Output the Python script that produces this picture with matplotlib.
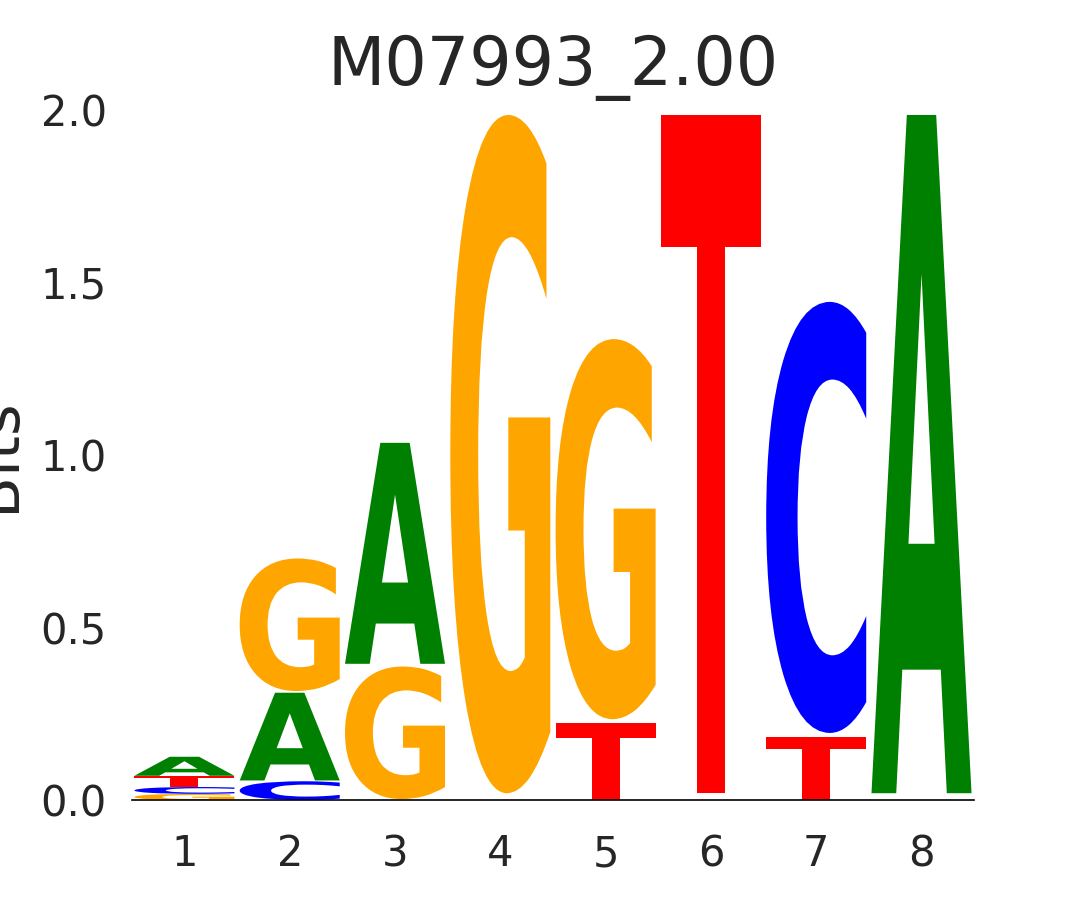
import numpy as np
import matplotlib
matplotlib.use('Agg')
import matplotlib.pyplot as plt
from matplotlib.textpath import TextPath
from matplotlib.patches import PathPatch
from matplotlib.font_manager import FontProperties
from matplotlib.transforms import Affine2D

# information content (bits) of each base at each position
positions = [1, 2, 3, 4, 5, 6, 7, 8]
bits_A = [0.056, 0.258, 0.650, 0.002, 0.000, 0.002, 0.000, 1.995]
bits_C = [0.020, 0.055, 0.000, 0.002, 0.000, 0.002, 1.268, 0.002]
bits_G = [0.018, 0.390, 0.390, 1.995, 1.118, 0.001, 0.000, 0.001]
bits_T = [0.032, 0.000, 0.000, 0.001, 0.226, 1.995, 0.185, 0.002]
title = 'M07993_2.00'

colors = {'A': 'green', 'C': 'blue', 'G': 'orange', 'T': 'red'}
font = FontProperties(family='DejaVu Sans', weight='bold')


def draw_letter(ax, letter, x, bottom, height, width=0.95, vpad=0.015):
    # scale the glyph so it fills the box exactly
    path = TextPath((0, 0), letter, size=1, prop=font)
    ext = path.get_extents()
    h = height * (1 - vpad)
    y0 = bottom + height * vpad / 2
    t = Affine2D().translate(-ext.x0, -ext.y0) \
        .scale(width / ext.width, h / ext.height) \
        .translate(x - width / 2, y0)
    ax.add_patch(PathPatch(t.transform_path(path), facecolor=colors[letter],
                           edgecolor='none'))


fig = plt.figure(figsize=(10.8, 9), dpi=100)
ax = fig.add_axes([0.122, 0.111, 0.780, 0.767])

table = {'A': bits_A, 'C': bits_C, 'G': bits_G, 'T': bits_T}
for i, p in enumerate(positions):
    # smallest letters at the bottom of the stack
    stack = sorted(table.items(), key=lambda kv: kv[1][i])
    bottom = 0.0
    for letter, vals in stack:
        v = vals[i]
        if v <= 0:
            continue
        if v > 0.008:
            draw_letter(ax, letter, p, bottom, v)
        bottom += v

ax.set_xlim(0.5, 8.5)
ax.set_ylim(0, 2)
ax.set_xticks(positions)
ax.set_yticks([0, 0.5, 1.0, 1.5, 2.0])
ax.set_yticklabels(['0.0', '0.5', '1.0', '1.5', '2.0'])
for s in ['top', 'right', 'left']:
    ax.spines[s].set_visible(False)
ax.spines['bottom'].set_color('black')
ax.spines['bottom'].set_linewidth(1.2)
ax.tick_params(length=0, labelsize=30, colors='#262626')
ax.tick_params(axis='x', pad=24)
ax.tick_params(axis='y', pad=18)
ax.set_ylabel('Bits', fontsize=44, color='#262626', labelpad=10)
ax.set_title(title, fontsize=48, color='#262626', pad=18)

fig.savefig('out.png', dpi=100)
